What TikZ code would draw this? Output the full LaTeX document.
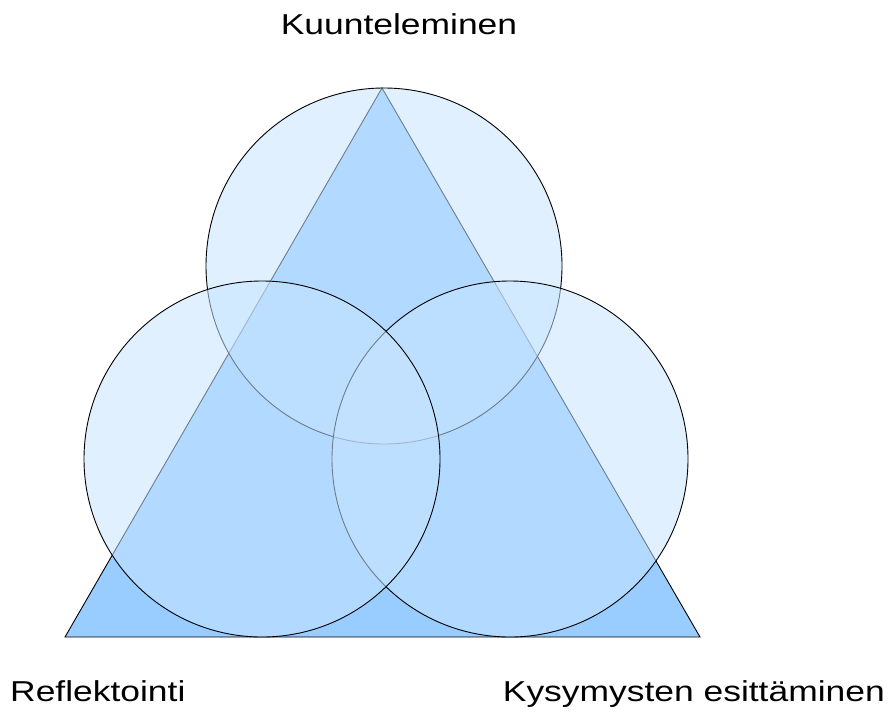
\documentclass[tikz,border=0pt]{standalone}
\usepackage{fontspec}
\setmainfont{Liberation Sans}
\newfontfamily\labelfont[FakeStretch=1.23]{Liberation Sans}
\usepackage{xcolor}
\usepackage{tikz}
\usetikzlibrary{positioning}

\definecolor{triblue}{RGB}{153,204,255}
\definecolor{ringblue}{RGB}{199,228,255}

\begin{document}
\begin{tikzpicture}[
    x=1pt, y=-1pt,
    ring/.style={draw=black, line width=0.9pt, fill=ringblue, fill opacity=0.55},
    tri/.style={draw=black, line width=0.9pt, fill=triblue},
    lbl/.style={inner sep=0pt, font=\labelfont\fontsize{28.8}{34}\selectfont}
]
    \useasboundingbox (0,0) rectangle (888,715);

    % Triangle behind the three circles
    \coordinate (apex) at (382,88);
    \coordinate (baseL) at (65,637);
    \coordinate (baseR) at (700,637);
    \draw[tri] (apex) -- (baseL) -- (baseR) -- cycle;

    % Circles: top, right, left
    \coordinate (ctop) at (384,266);
    \coordinate (cright) at (510,459);
    \coordinate (cleft) at (262,459);
    \draw[ring] (ctop) circle[radius=178pt];
    \draw[ring] (cright) circle[radius=178pt];
    \draw[ring] (cleft) circle[radius=178pt];

    % Labels
    \node[lbl, anchor=base] (listen) at (399,34) {Kuunteleminen};
    \node[lbl, anchor=base west] (reflect) at (10,701) {Reflektointi};
    \node[lbl, anchor=base east] (ask) at (885,701) {Kysymysten esittäminen};
\end{tikzpicture}
\end{document}
